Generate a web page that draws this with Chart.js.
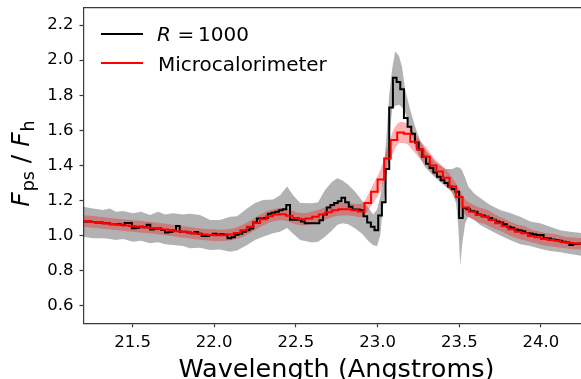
<!DOCTYPE html>
<html><head><meta charset="utf-8">
<script src="https://cdn.jsdelivr.net/npm/chart.js@4/dist/chart.umd.min.js"></script>
<style>
html,body{margin:0;padding:0;background:#fff;overflow:hidden;width:581px;height:379px}
#wrap{width:590px;height:379px;position:relative}
canvas{display:block}
</style></head><body>
<div id="wrap"><canvas id="c" width="590" height="379"></canvas></div>
<script>
// ---- data ----
const xTicks = [21.5, 22.0, 22.5, 23.0, 23.5, 24.0];
const yTicks = [0.6, 0.8, 1.0, 1.2, 1.4, 1.6, 1.8, 2.0, 2.2];

// R = 1000 spectrum (bin centres, Angstrom)
const blackX = [
21.1925,21.215,21.2375,21.26,21.2825,21.305,21.3275,21.35,21.3725,21.395,21.4175,21.44,
21.4625,21.485,21.5075,21.53,21.5525,21.575,21.5975,21.62,21.6425,21.665,21.6875,21.71,
21.7325,21.755,21.7775,21.80,21.8225,21.845,21.8675,21.89,21.9125,21.935,21.9575,21.98,
22.0025,22.025,22.0475,22.07,22.0925,22.115,22.1375,22.16,22.1825,22.205,22.2275,22.25,
22.2725,22.295,22.3175,22.34,22.3625,22.385,22.4075,22.43,22.4525,22.475,22.4975,22.52,
22.5425,22.565,22.5875,22.61,22.6325,22.655,22.6775,22.70,22.7225,22.745,22.7675,22.79,
22.8125,22.835,22.8575,22.88,22.9025,22.925,22.9475,22.97,22.9925,23.015,23.0375,23.06,
23.0825,23.105,23.1275,23.15,23.1725,23.195,23.2175,23.24,23.2625,23.285,23.3075,23.33,
23.3525,23.375,23.3975,23.42,23.4425,23.465,23.4875,23.51,23.5325,23.555,23.5775,23.60,
23.6225,23.645,23.6675,23.69,23.7125,23.735,23.7575,23.78,23.8025,23.825,23.8475,23.87,
23.8925,23.915,23.9375,23.96,23.9825,24.005,24.0275,24.05,24.0725,24.095,24.1175,24.14,
24.1625,24.185,24.2075,24.23,24.2525,24.275,24.2975,24.32];
const blackY = [
1.080,1.080,1.080,1.078,1.075,1.075,1.070,1.070,1.065,1.065,1.065,1.060,
1.072,1.072,1.042,1.045,1.050,1.048,1.062,1.035,1.038,1.040,1.032,1.018,
1.020,1.030,1.055,1.022,1.022,1.017,1.013,1.020,1.010,0.998,0.998,1.003,
1.010,1.005,1.008,1.005,0.985,0.990,1.005,1.010,1.022,1.030,1.040,1.075,
1.098,1.098,1.100,1.125,1.130,1.136,1.145,1.150,1.175,1.090,1.090,1.090,
1.080,1.070,1.070,1.070,1.070,1.088,1.120,1.160,1.175,1.185,1.195,1.215,
1.190,1.165,1.148,1.148,1.145,1.110,1.075,1.050,1.030,1.115,1.190,1.380,
1.730,1.900,1.876,1.834,1.670,1.620,1.580,1.530,1.490,1.450,1.410,1.385,
1.360,1.335,1.315,1.300,1.280,1.265,1.250,1.100,1.157,1.150,1.140,1.136,
1.120,1.115,1.108,1.100,1.090,1.080,1.075,1.065,1.050,1.045,1.035,1.030,
1.025,1.015,1.012,1.008,1.003,1.003,0.985,0.983,0.978,0.975,0.971,0.965,
0.960,0.946,0.952,0.953,0.955,0.952,0.950,0.948];

// Microcalorimeter spectrum
const redX = [
21.18,21.22,21.26,21.30,21.34,21.38,21.42,21.46,21.50,21.54,21.58,21.62,21.66,21.70,
21.74,21.78,21.82,21.86,21.90,21.94,21.98,22.02,22.06,22.10,22.14,22.18,22.22,22.26,
22.30,22.34,22.38,22.42,22.46,22.50,22.54,22.58,22.62,22.66,22.70,22.74,22.78,22.82,
22.86,22.90,22.94,22.98,23.02,23.06,23.10,23.14,23.18,23.22,23.26,23.30,23.34,23.38,
23.42,23.46,23.50,23.54,23.58,23.62,23.66,23.70,23.74,23.78,23.82,23.86,23.90,23.94,
23.98,24.02,24.06,24.10,24.14,24.18,24.22,24.26,24.30,24.34];
const redY = [
1.084,1.081,1.078,1.074,1.070,1.066,1.062,1.058,1.055,1.051,1.047,1.043,1.039,1.035,
1.030,1.025,1.020,1.015,1.010,1.006,1.004,1.002,1.002,1.006,1.015,1.030,1.050,1.072,
1.093,1.110,1.120,1.122,1.113,1.100,1.093,1.097,1.108,1.120,1.133,1.145,1.150,1.150,
1.145,1.137,1.186,1.250,1.320,1.440,1.545,1.588,1.580,1.535,1.490,1.450,1.400,1.365,
1.330,1.280,1.220,1.160,1.136,1.117,1.108,1.089,1.070,1.055,1.036,1.022,1.013,0.998,
0.990,0.980,0.975,0.970,0.962,0.957,0.955,0.953,0.950,0.948];
const redHi = [
1.117,1.114,1.111,1.107,1.103,1.099,1.095,1.091,1.088,1.084,1.080,1.076,1.072,1.068,
1.063,1.058,1.053,1.048,1.043,1.039,1.037,1.035,1.035,1.039,1.048,1.065,1.085,1.107,
1.128,1.145,1.155,1.157,1.148,1.135,1.128,1.132,1.143,1.155,1.168,1.180,1.185,1.185,
1.180,1.180,1.231,1.305,1.380,1.502,1.607,1.648,1.638,1.590,1.542,1.500,1.448,1.411,
1.376,1.326,1.266,1.203,1.179,1.160,1.151,1.132,1.110,1.095,1.076,1.062,1.053,1.034,
1.026,1.016,1.011,1.006,0.995,0.990,0.988,0.986,0.983,0.981];
const redLo = [
1.051,1.048,1.045,1.041,1.037,1.033,1.029,1.025,1.022,1.018,1.014,1.010,1.006,1.002,
0.997,0.992,0.987,0.982,0.977,0.973,0.971,0.969,0.969,0.973,0.982,0.995,1.015,1.037,
1.058,1.075,1.085,1.087,1.078,1.065,1.058,1.062,1.073,1.085,1.098,1.110,1.115,1.115,
1.110,1.104,1.141,1.195,1.260,1.378,1.483,1.528,1.522,1.480,1.438,1.400,1.352,1.319,
1.284,1.234,1.174,1.117,1.093,1.074,1.065,1.046,1.030,1.015,0.996,0.982,0.973,0.962,
0.954,0.944,0.939,0.934,0.929,0.924,0.922,0.920,0.917,0.915];

// R = 1000 uncertainty band
const grayX = [
21.197,21.258,21.319,21.362,21.399,21.442,21.503,21.552,21.607,21.656,21.699,21.748,
21.809,21.852,21.913,21.975,22.036,22.097,22.140,22.201,22.250,22.299,22.360,22.403,
22.446,22.483,22.526,22.599,22.636,22.678,22.722,22.752,22.783,22.820,22.863,22.905,
22.942,22.973,22.997,23.016,23.034,23.053,23.071,23.089,23.108,23.132,23.150,23.169,
23.200,23.230,23.261,23.291,23.353,23.414,23.457,23.481,23.494,23.506,23.518,23.536,
23.555,23.591,23.628,23.689,23.750,23.811,23.873,23.934,23.995,24.056,24.117,24.179,
24.246,24.300];
const grayHi = [
1.165,1.155,1.146,1.155,1.136,1.140,1.127,1.136,1.117,1.136,1.120,1.127,
1.120,1.125,1.117,1.089,1.089,1.108,1.110,1.155,1.186,1.203,1.205,1.230,
1.280,1.230,1.186,1.184,1.190,1.260,1.307,1.327,1.315,1.290,1.250,1.200,
1.160,1.120,1.150,1.220,1.330,1.550,1.800,1.950,2.050,2.020,1.960,1.830,
1.716,1.620,1.540,1.490,1.420,1.380,1.380,1.390,1.390,1.385,1.370,1.330,
1.280,1.240,1.214,1.175,1.146,1.128,1.108,1.080,1.070,1.050,1.030,1.022,
1.014,1.005];
const grayLo = [
0.994,0.985,0.985,0.980,0.975,0.980,0.965,0.970,0.956,0.962,0.950,0.946,
0.940,0.928,0.930,0.918,0.920,0.908,0.915,0.946,0.975,0.994,1.013,1.022,
1.043,1.010,0.975,0.960,0.965,0.994,1.030,1.060,1.070,1.065,1.040,1.010,
0.970,0.945,0.940,1.000,1.170,1.300,1.550,1.720,1.740,1.745,1.730,1.700,
1.600,1.507,1.440,1.390,1.330,1.280,1.250,1.180,1.050,0.830,0.950,1.070,
1.108,1.090,1.060,1.030,1.000,0.975,0.950,0.940,0.925,0.912,0.905,0.895,
0.885,0.878];

// ---- chart ----
const FONT = '"DejaVu Sans", sans-serif';
const pts = (xs, ys) => xs.map((x, i) => ({x: x, y: ys[i]}));
const X_MIN = 21.2, X_MAX = 24.3, Y_MIN = 0.5, Y_MAX = 2.3;
const SPINE = '#3a3a3a';

const annotate = {
  id: 'annotate',
  beforeDraw(chart) {
    const ctx = chart.ctx;
    ctx.save();
    ctx.fillStyle = '#fff';
    ctx.fillRect(0, 0, chart.width, chart.height);
    ctx.restore();
  },
  afterDraw(chart) {
    const ctx = chart.ctx;
    ctx.save();
    // legend
    ctx.lineWidth = 2;
    ctx.lineCap = 'butt';
    ctx.strokeStyle = '#000';
    ctx.beginPath(); ctx.moveTo(101, 34); ctx.lineTo(143, 34); ctx.stroke();
    ctx.strokeStyle = '#ff0000';
    ctx.beginPath(); ctx.moveTo(101, 63); ctx.lineTo(143, 63); ctx.stroke();
    ctx.fillStyle = '#000';
    ctx.textBaseline = 'alphabetic';
    ctx.textAlign = 'left';
    ctx.font = 'italic 20px ' + FONT;
    ctx.fillText('R', 157, 41);
    ctx.font = '20px ' + FONT;
    ctx.fillText('=', 177.5, 41);
    ctx.fillText('1000', 198, 41);
    ctx.fillText('Microcalorimeter', 158, 70.5);

    // x title
    ctx.font = '25.5px ' + FONT;
    ctx.textAlign = 'center';
    ctx.fillText('Wavelength (Angstroms)', 336.5, 376.5);

    // y title
    const big = 25, small = 17.5;
    const parts = [
      {t: 'F', f: 'italic ' + big + 'px ' + FONT, dy: 0, gap: 1},
      {t: 'ps', f: small + 'px ' + FONT, dy: 5.5, gap: 0},
      {t: ' / ', f: big + 'px ' + FONT, dy: 0, gap: 0},
      {t: 'F', f: 'italic ' + big + 'px ' + FONT, dy: 0, gap: 1},
      {t: 'h', f: small + 'px ' + FONT, dy: 5.5, gap: 0}
    ];
    let total = 0;
    parts.forEach(p => { ctx.font = p.f; p.w = ctx.measureText(p.t).width; total += p.w + p.gap; });
    ctx.translate(28.5, 163.5);
    ctx.rotate(-Math.PI / 2);
    ctx.textAlign = 'left';
    let cx = -total / 2;
    parts.forEach(p => { ctx.font = p.f; ctx.fillText(p.t, cx, p.dy); cx += p.w + p.gap; });
    ctx.restore();
  }
};

function noPad(s) { s.paddingTop = 0; s.paddingBottom = 0; s.paddingLeft = 0; s.paddingRight = 0; }

new Chart(document.getElementById('c'), {
  type: 'line',
  data: {
    datasets: [
      { label: 'Microcalorimeter', data: pts(redX, redY), borderColor: '#ff0000', borderWidth: 2,
        stepped: 'middle', pointRadius: 0, fill: false, order: 0, borderJoinStyle: 'miter' },
      { label: 'R = 1000', data: pts(blackX, blackY), borderColor: '#000000', borderWidth: 2,
        stepped: 'middle', pointRadius: 0, fill: false, order: 1, borderJoinStyle: 'miter' },
      { label: 'redLo', data: pts(redX, redLo), borderColor: 'rgba(0,0,0,0)', borderWidth: 0,
        pointRadius: 0, fill: false, order: 2, cubicInterpolationMode: 'monotone' },
      { label: 'redHi', data: pts(redX, redHi), borderColor: 'rgba(0,0,0,0)', borderWidth: 0,
        pointRadius: 0, fill: {target: 2}, backgroundColor: 'rgba(255,0,0,0.3)', order: 3,
        cubicInterpolationMode: 'monotone' },
      { label: 'grayLo', data: pts(grayX, grayLo), borderColor: 'rgba(0,0,0,0)', borderWidth: 0,
        pointRadius: 0, fill: false, order: 4, tension: 0 },
      { label: 'grayHi', data: pts(grayX, grayHi), borderColor: 'rgba(0,0,0,0)', borderWidth: 0,
        pointRadius: 0, fill: {target: 4}, backgroundColor: 'rgba(0,0,0,0.3)', order: 5, tension: 0 }
    ]
  },
  options: {
    responsive: false,
    animation: false,
    events: [],
    layout: { padding: { top: 7.5, left: 0, right: 0, bottom: 0 } },
    plugins: { legend: { display: false }, tooltip: { enabled: false } },
    scales: {
      x: {
        type: 'linear', position: 'bottom', min: X_MIN, max: X_MAX,
        afterBuildTicks: s => { s.ticks = xTicks.map(v => ({value: v})); },
        afterFit: s => { s.height = 55.7; noPad(s); },
        ticks: { autoSkip: false, maxRotation: 0, color: '#000', padding: 6,
                 font: { family: FONT, size: 16.5 }, callback: v => Number(v).toFixed(1) },
        grid: { drawOnChartArea: false, drawTicks: true, tickLength: 4, color: SPINE, tickWidth: 1.2 },
        border: { display: true, color: SPINE, width: 1.2 }
      },
      xTop: {
        type: 'linear', position: 'top', min: X_MIN, max: X_MAX, display: true,
        afterFit: s => { s.height = 0; noPad(s); },
        ticks: { display: false },
        grid: { display: false, drawTicks: false },
        border: { display: true, color: SPINE, width: 1.2 }
      },
      y: {
        type: 'linear', position: 'left', min: Y_MIN, max: Y_MAX,
        afterBuildTicks: s => { s.ticks = yTicks.map(v => ({value: v})); },
        afterFit: s => { s.width = 83.5; noPad(s); },
        ticks: { autoSkip: false, color: '#000', padding: 6,
                 font: { family: FONT, size: 16.5 }, callback: v => Number(v).toFixed(1) },
        grid: { drawOnChartArea: false, drawTicks: true, tickLength: 4, color: SPINE, tickWidth: 1.2 },
        border: { display: true, color: SPINE, width: 1.2 }
      }
    }
  },
  plugins: [annotate]
});
</script></body></html>
